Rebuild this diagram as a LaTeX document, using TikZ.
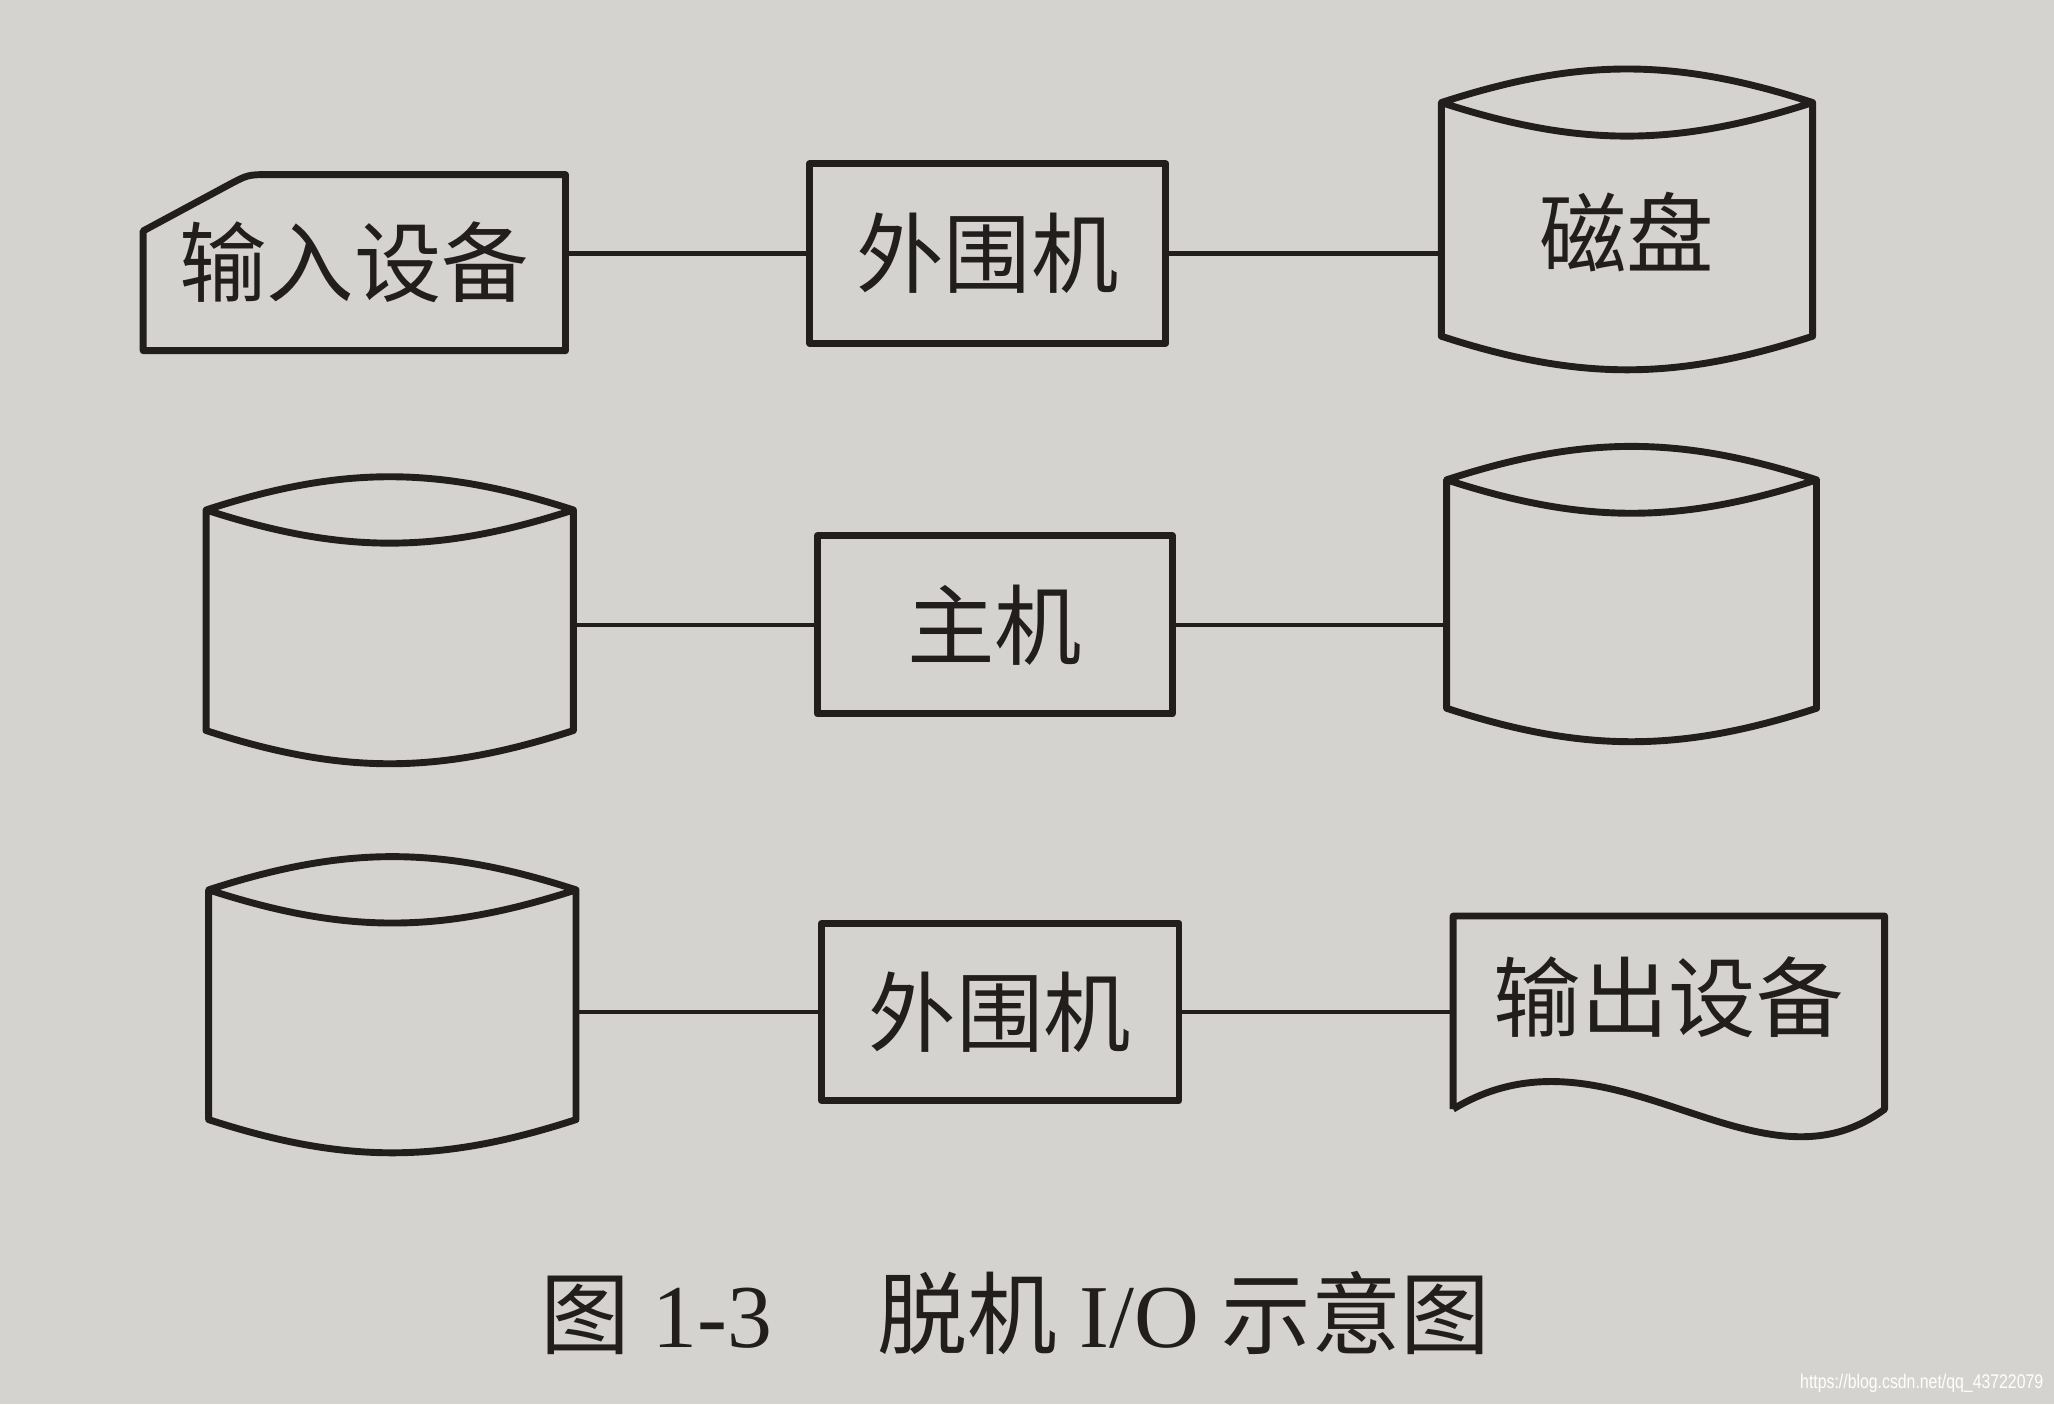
\documentclass[tikz,border=0pt]{standalone}
\usepackage{fontspec}
\setmainfont{Liberation Serif}
\newfontfamily\cjk{Noto Sans CJK SC}
\newfontfamily\marksans{Liberation Sans}

\definecolor{paper}{RGB}{212,211,207}
\definecolor{ink}{RGB}{35,30,30}

% drum outline drawn round a named node
\newcommand{\drumoutline}[1]{%
  \draw [outline] (#1.north west) to[bend left=18] (#1.north east)
    to[bend left=18] (#1.north west) -- (#1.south west)
    to[bend right=18] (#1.south east) -- (#1.north east);
}

\begin{document}
\begin{tikzpicture}[outline/.style = {draw=ink, line width=1.5pt, line join=round},
    blank/.style = {rectangle, inner sep=0pt, text=ink, font=\cjk\fontsize{19}{22}\selectfont},
    unit/.style = {blank, outline},
    link/.style = {draw=ink, line width=1pt}]
    \fill [paper] (0,0) rectangle (15.68,-10.72);
    \useasboundingbox (0,0) rectangle (15.68,-10.72);

    % row 1
    \node (in1) [blank, minimum width=3.21cm, minimum height=1.33cm] at (2.705,-2.005) {输入设备};
    \node (per1) [unit, minimum width=2.72cm, minimum height=1.37cm] at (7.54,-1.935) {外围机};
    \node (disk1) [blank, minimum width=2.82cm, minimum height=1.77cm,
      label={[blank, yshift=-0.1cm]center:磁盘}] at (12.42,-1.675) {};

    % row 2
    \node (cyl21) [blank, minimum width=2.79cm, minimum height=1.67cm] at (2.975,-4.735) {};
    \node (host) [unit, minimum width=2.71cm, minimum height=1.36cm] at (7.595,-4.77) {主机};
    \node (cyl22) [blank, minimum width=2.81cm, minimum height=1.73cm] at (12.455,-4.535) {};

    % row 3
    \node (cyl31) [blank, minimum width=2.79cm, minimum height=1.74cm] at (2.995,-7.67) {};
    \node (per3) [unit, minimum width=2.73cm, minimum height=1.35cm] at (7.635,-7.725) {外围机};
    \node (out3) [blank, minimum width=3.28cm, minimum height=1.46cm,
      label={[blank, yshift=0.12cm]center:输出设备}] at (12.74,-7.73) {};

    % card with cut corner
    \draw [outline] (in1.north east) -- ([xshift=0.97cm]in1.north west)
      .. controls ([xshift=0.8cm]in1.north west) .. ([xshift=0.65cm, yshift=-0.08cm]in1.north west)
      -- ([yshift=-0.43cm]in1.north west) -- (in1.south west) -- (in1.south east) -- cycle;

    % document with wavy bottom
    \draw [outline] (out3.south west) -- (out3.north west) -- (out3.north east) -- (out3.south east)
      .. controls ([xshift=-0.98cm, yshift=-0.73cm]out3.south east)
      and ([xshift=1.2cm, yshift=0.73cm]out3.south west) .. (out3.south west);

    \foreach \d in {disk1,cyl21,cyl22,cyl31}
    {
      \drumoutline{\d}
    }

    \foreach \a/\b in {in1/per1, cyl21/host, cyl31/per3}
    {
      \draw [link] (\b.west -| \a.east) -- (\b.west);
    }

    \foreach \a/\b in {per1/disk1, host/cyl22, per3/out3}
    {
      \draw [link] (\a.east) -- (\a.east -| \b.west);
    }

    \node (caption) [anchor=west, inner sep=0pt, text=ink, font=\fontsize{19.5}{22}\selectfont]
      at (4.12,-10.02) {{\cjk 图} 1-3\hspace{0.8cm}{\cjk 脱机} I/O {\cjk 示意图}};
    \node (mark) [text=white, xscale=0.8, font=\marksans\fontsize{4.3}{5}\selectfont]
      at (14.67,-10.56) {https://blog.csdn.net/qq\_43722079};
  \end{tikzpicture}
\end{document}
